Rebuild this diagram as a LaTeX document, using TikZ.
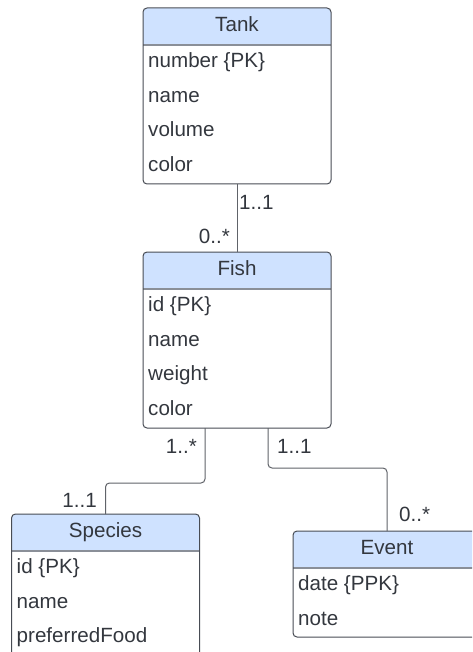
\documentclass[tikz,border=0pt]{standalone}
\usepackage{fontspec}
\setmainfont{Liberation Sans}
\usetikzlibrary{calc}

\definecolor{hdrblue}{RGB}{207,226,255}
\definecolor{framegray}{RGB}{72,76,84}
\definecolor{sepgray}{RGB}{138,143,152}
\definecolor{linkgray}{RGB}{96,99,105}
\definecolor{inkgray}{RGB}{51,55,62}

\tikzset{
  boxshape/.style={rectangle, minimum width=188pt, inner sep=0pt, outer sep=0pt},
  hdrfill/.style={fill=hdrblue},
  sepline/.style={draw=sepgray, line width=1.2pt},
  frame/.style={draw=framegray, line width=1pt, rounded corners=4pt},
  labelfont/.style={font=\fontsize{20.6pt}{24pt}\selectfont},
  titletext/.style={anchor=base, inner sep=0pt, text=inkgray, labelfont},
  rowtext/.style={anchor=base west, inner sep=0pt, text=inkgray, labelfont},
  mult/.style={inner sep=0pt, text=inkgray, labelfont},
  conn/.style={draw=linkgray, line width=1pt, rounded corners=4pt},
}

% A class: name, centre, height, title, list of attributes
\newcommand\classbox[5]{%
  \node[boxshape, minimum height=#3] (#1) at #2 {};
  \begin{scope}
    \clip[rounded corners=4pt] (#1.north west) rectangle (#1.south east);
    \fill[hdrfill] (#1.north west) rectangle ([yshift=-37pt]#1.north east);
  \end{scope}
  \draw[sepline] ([yshift=-37pt]#1.north west) -- ([yshift=-37pt]#1.north east);
  \draw[frame] (#1.north west) rectangle (#1.south east);
  \node[titletext] (#1-title) at ([yshift=-23.5pt]#1.north) {#4};
  \foreach \r [count=\i] in {#5} {
    \node[rowtext] (#1-row\i) at ([xshift=5pt, yshift={-59.5pt-34.7pt*(\i-1)}]#1.north west) {\r};
  }
}

\begin{document}
\begin{tikzpicture}[x=1pt, y=-1pt]
\useasboundingbox (0,0) rectangle (472,652);
\clip (0,0) rectangle (472,652);

\classbox{tank}{(237,96)}{176pt}{Tank}{number \{PK\}, name, volume, color}
\classbox{fish}{(237,340)}{176pt}{Fish}{id \{PK\}, name, weight, color}
\classbox{species}{(105.5,602)}{176pt}{Species}{id \{PK\}, name, preferredFood}
\classbox{event}{(387,584)}{106pt}{Event}{date \{PPK\}, note}

% associations
\draw[conn] (tank.south) -- (fish.north);
\coordinate (fishA) at ([xshift=-32pt]fish.south);
\coordinate (fishB) at ([xshift=31pt]fish.south);
\draw[conn] (fishA) -- ++(0,55) -| (species.north);
\draw[conn] (fishB) -- ++(0,40) -| (event.north);

% multiplicities
\node[mult, anchor=base west] (m1) at (239,209) {1..1};
\node[mult, anchor=base east] (m2) at (230,243) {0..*};
\node[mult, anchor=base east] (m3) at (197,453) {1..*};
\node[mult, anchor=base west] (m4) at (277,453) {1..1};
\node[mult, anchor=base east] (m5) at (97,507) {1..1};
\node[mult, anchor=base west] (m6) at (399,521.5) {0..*};
\end{tikzpicture}
\end{document}
